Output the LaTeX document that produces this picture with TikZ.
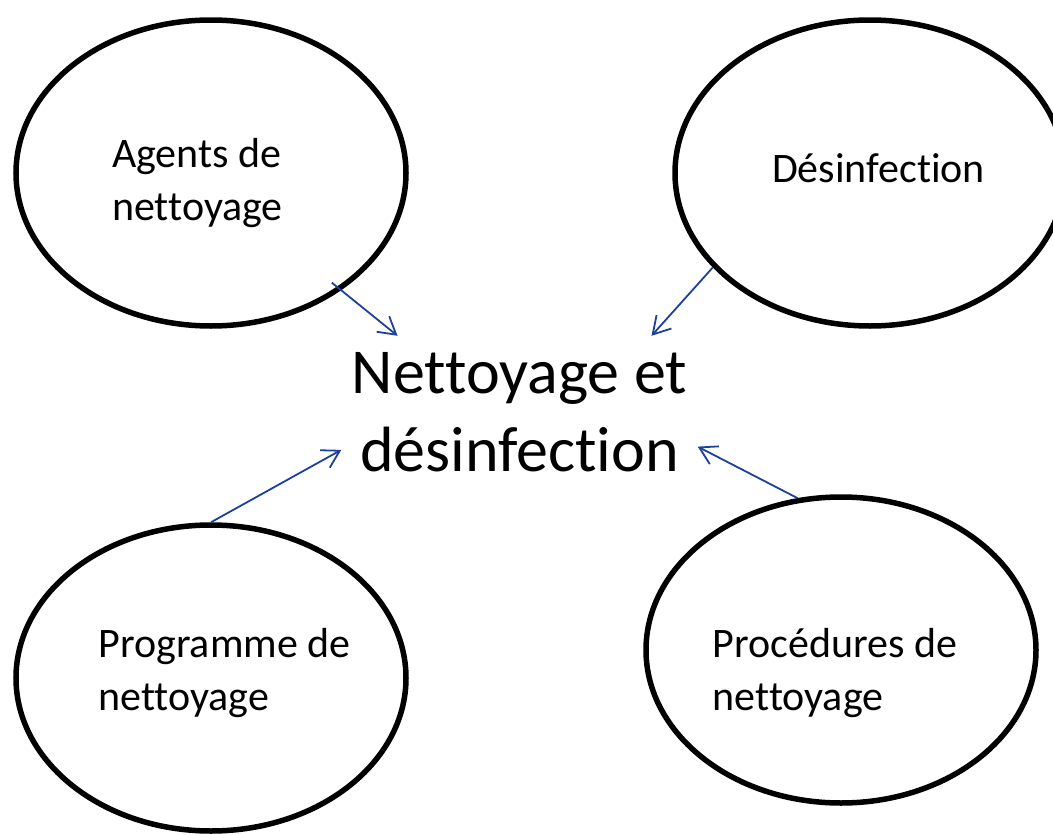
\documentclass[tikz,border=0pt]{standalone}
\usepackage{fontspec}
\setmainfont{Carlito}[Ligatures = NoCommon]
\usepackage{tikz}
\usetikzlibrary{shapes.geometric,arrows.meta}
\definecolor{arrowblue}{RGB}{28,64,156}

\begin{document}
\begin{tikzpicture}[x = 1pt, y = -1pt,
        bubble/.style = {ellipse, draw = black, line width = 5.5pt, minimum width = 390pt, minimum height = 306pt, inner sep = 0pt},
        bubbletext/.style = {align = left, inner sep = 0pt, font = \fontsize{42}{53}\selectfont},
        flow/.style = {draw = arrowblue, line width = 1.8pt, -{Straight Barb[length = 17pt, width = 20pt]}}]
        \useasboundingbox (0,0) rectangle (1053,835);
        \node[bubble, label = {[bubbletext, xshift = -13.5pt, yshift = -10pt]center:{Agents de\\nettoyage}}] (agents) at (211,173) {};
        \node[bubble, label = {[bubbletext, xshift = 8.5pt, yshift = 5pt]center:{Désinfection}}] (disinfection) at (870,173) {};
        \node[bubble, label = {[bubbletext, xshift = 13.5pt, yshift = 5pt]center:{Programme de\\nettoyage}}] (program) at (211,678) {};
        \node[bubble, label = {[bubbletext, xshift = -6pt, yshift = -23pt]center:{Procédures de\\nettoyage}}] (procedures) at (841,650) {};
        \node[align = center, inner sep = 0pt, minimum width = 356pt, minimum height = 152pt, font = \fontsize{64}{78}\selectfont] (title) at (519.5,412) {Nettoyage et\\désinfection};
        \draw[flow, shorten <= -12pt] (agents.-42.5) -- (title.148);
        \draw[flow] (disinfection.211.7) -- (title.30);
        \draw[flow] (program.90) -- (title.192);
        \draw[flow] (procedures.106) -- (title.-11);
\end{tikzpicture}
\end{document}
